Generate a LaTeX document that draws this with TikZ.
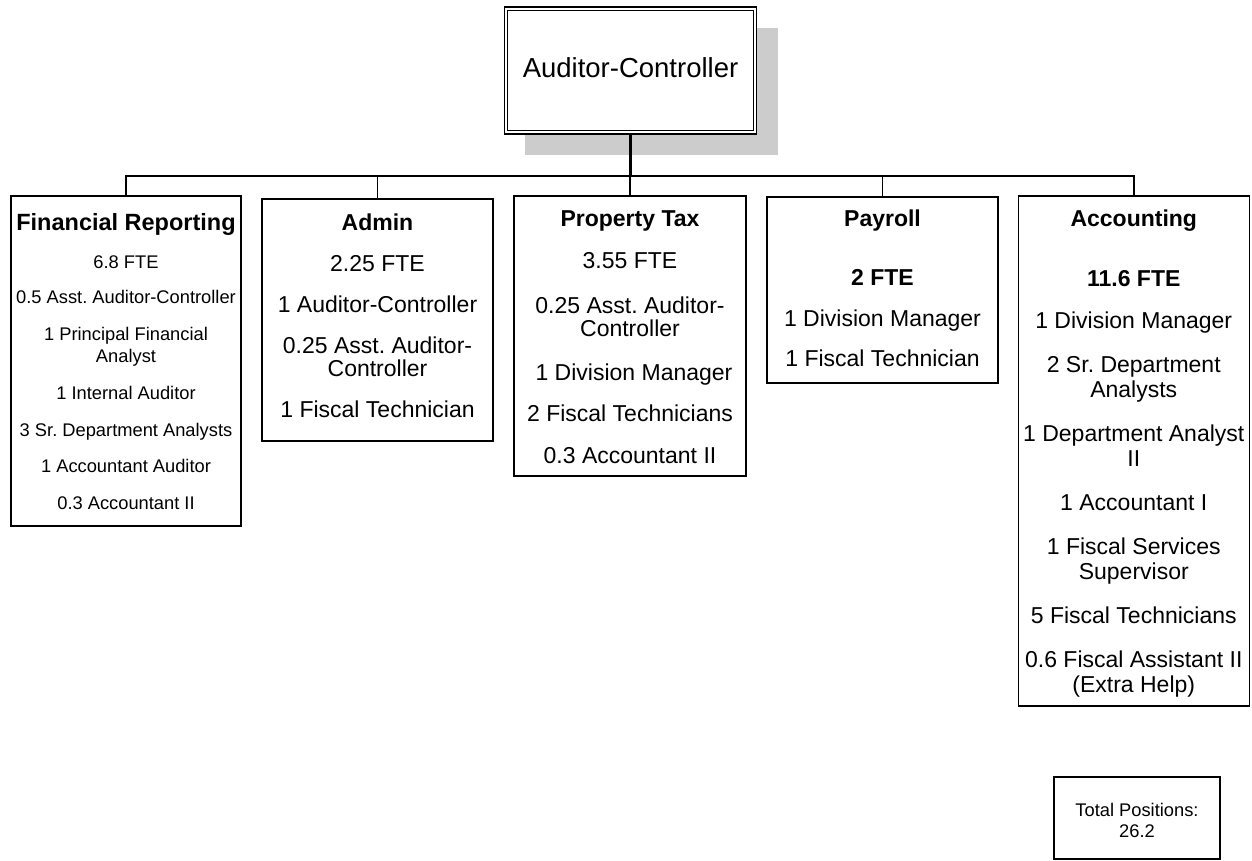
\documentclass[tikz,border=0pt]{standalone}
\usepackage{fontspec}
\setmainfont{Liberation Sans}
\definecolor{shadowgray}{RGB}{204,204,204}
\frenchspacing
\begin{document}
\begin{tikzpicture}[x=1pt,y=-1pt,
  box/.style={draw=black, line width=1.4pt, fill=white, inner sep=0pt},
  conn/.style={draw=black, line width=1.6pt},
  stem/.style={draw=black, line width=3pt},
  ttl/.style={font=\fontsize{23}{26}\selectfont\bfseries, anchor=base, inner sep=0pt},
  txt/.style={font=\fontsize{23}{26}\selectfont, anchor=base, inner sep=0pt},
  sml/.style={font=\fontsize{18.3}{21}\selectfont, anchor=base, inner sep=0pt}]
\useasboundingbox (0,0) rectangle (1252,861);

% shadow and top box
\fill[shadowgray] (525,28) rectangle (778,155);
\node[box, minimum width=252pt, minimum height=127pt] (top) at (630.5,70.5) {};
\draw[line width=1pt] ([shift={(4,4)}]top.north west) rectangle ([shift={(-4,-4)}]top.south east);
\node[txt, font=\fontsize{27.5}{31}\selectfont] (toptext) at (630.5,78) {Auditor-Controller};

% division boxes
\node[box, minimum width=230pt, minimum height=330pt] (fr) at (126,361) {};
\node[box, minimum width=231pt, minimum height=242pt] (adm) at (377.5,320) {};
\node[box, minimum width=232pt, minimum height=280pt] (pt) at (630,336) {};
\node[box, minimum width=231pt, minimum height=186pt] (pay) at (882.5,290) {};
\node[box, minimum width=231pt, minimum height=510pt] (acc) at (1133.75,451) {};
\node[box, minimum width=166pt, minimum height=82pt] (tot) at (1137,818) {};

% connectors
\coordinate (hub) at (630.5,176);
\draw[stem] (top.south) -- (hub);
\draw[conn] (fr.north) |- (hub) -| (acc.north);
\draw[conn] (adm.north) -- (adm.north |- hub);
\draw[conn] (pt.north) -- (pt.north |- hub);
\draw[conn] (pay.north) -- (pay.north |- hub);

% Financial Reporting
\node[ttl, font=\fontsize{23.5}{27}\selectfont\bfseries] (fr0) at (126,230) {Financial Reporting};
\node[sml] (fr1) at (126,268) {6.8 FTE};
\node[sml] (fr2) at (126,303) {0.5 Asst. Auditor-Controller};
\node[sml] (fr3) at (126,340) {1 Principal Financial};
\node[sml] (fr4) at (126,362) {Analyst};
\node[sml] (fr5) at (126,399) {1 Internal Auditor};
\node[sml] (fr6) at (126,436) {3 Sr. Department Analysts};
\node[sml] (fr7) at (126,472) {1 Accountant Auditor};
\node[sml] (fr8) at (126,509) {0.3 Accountant II};

% Admin
\node[ttl] (ad0) at (377.5,230) {Admin};
\node[txt] (ad1) at (377.5,271) {2.25 FTE};
\node[txt] (ad2) at (377.5,312) {1 Auditor-Controller};
\node[txt] (ad3) at (377.5,353) {0.25 Asst. Auditor-};
\node[txt] (ad4) at (377.5,376) {Controller};
\node[txt] (ad5) at (377.5,417) {1 Fiscal Technician};

% Property Tax
\node[ttl] (pt0) at (630,226) {Property Tax};
\node[txt] (pt1) at (630,268) {3.55 FTE};
\node[txt] (pt2) at (630,313) {0.25 Asst. Auditor-};
\node[txt] (pt3) at (630,336) {Controller};
\node[txt] (pt4) at (634,380) {1 Division Manager};
\node[txt] (pt5) at (630,421) {2 Fiscal Technicians};
\node[txt] (pt6) at (630,463) {0.3 Accountant II};

% Payroll
\node[ttl] (pa0) at (882.5,226) {Payroll};
\node[ttl] (pa1) at (882.5,285) {2 FTE};
\node[txt] (pa2) at (882.5,326) {1 Division Manager};
\node[txt] (pa3) at (882.5,366) {1 Fiscal Technician};

% Accounting
\node[ttl] (ac0) at (1133.75,226) {Accounting};
\node[ttl] (ac1) at (1133.75,286) {11.6 FTE};
\node[txt] (ac2) at (1133.75,328) {1 Division Manager};
\node[txt] (ac3) at (1133.75,372) {2 Sr. Department};
\node[txt] (ac4) at (1133.75,397) {Analysts};
\node[txt] (ac5) at (1133.75,441) {1 Department Analyst};
\node[txt] (ac6) at (1133.75,466) {II};
\node[txt] (ac7) at (1133.75,510) {1 Accountant I};
\node[txt] (ac8) at (1133.75,554) {1 Fiscal Services};
\node[txt] (ac9) at (1133.75,579) {Supervisor};
\node[txt] (ac10) at (1133.75,623) {5 Fiscal Technicians};
\node[txt] (ac11) at (1133.75,667) {0.6 Fiscal Assistant II};
\node[txt] (ac12) at (1133.75,692) {(Extra Help)};

% Total
\node[sml] (to0) at (1137,816) {Total Positions:};
\node[sml] (to1) at (1137,837) {26.2};
\end{tikzpicture}
\end{document}
